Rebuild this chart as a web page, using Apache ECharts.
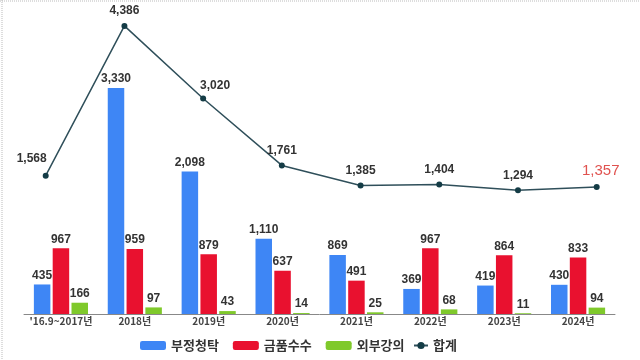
<!DOCTYPE html>
<html><head><meta charset="utf-8">
<script src="https://cdn.jsdelivr.net/npm/echarts@6/dist/echarts.min.js"></script>
<style>html,body{margin:0;padding:0;background:#fff}#c{width:640px;height:360px}</style>
</head><body><div id="c"></div>
<script>
const categories = ["'16.9~2017년", "2018년", "2019년", "2020년", "2021년", "2022년", "2023년", "2024년"];
const solicitation = [435, 3330, 2098, 1110, 869, 369, 419, 430];
const bribery = [967, 959, 879, 637, 491, 967, 864, 833];
const lectures = [166, 97, 43, 14, 25, 68, 11, 94];
const totals = [1568, 4386, 3020, 1761, 1385, 1404, 1294, 1357];
const seriesNames = ['부정청탁', '금품수수', '외부강의', '합계'];

const numFont = "'Liberation Sans', 'Noto Sans CJK KR', sans-serif";
const krFont = "'Noto Sans CJK KR', 'Liberation Sans', sans-serif";
const fmt = v => v.toLocaleString('en-US');

const chart = echarts.init(document.getElementById('c'), null, {renderer: 'canvas'});
const barLabel = {show: true, position: 'top', distance: 3, color: '#333', fontWeight: 'bold', fontSize: 12, fontFamily: numFont, formatter: p => fmt(p.value)};

const lineData = totals.map((v, i) => {
  const d = {value: v};
  if (i === 0) d.label = {offset: [-14, -2]};
  if (i === 2) d.label = {offset: [12, 2]};
  if (i === totals.length - 1) d.label = {color: '#E0524F', fontWeight: 'normal', fontSize: 15, offset: [4, 0]};
  return d;
});

chart.setOption({
  animation: false,
  backgroundColor: '#fff',
  graphic: [
    {type: 'line', shape: {x1: 2, y1: 0, x2: 2, y2: 360}, style: {stroke: '#bbb', lineWidth: 1, lineDash: [1, 1]}},
    {type: 'line', shape: {x1: 0, y1: 1, x2: 640, y2: 1}, style: {stroke: '#bbb', lineWidth: 1, lineDash: [1, 1]}}
  ],
  legend: [
    {data: seriesNames.slice(0, 3), left: 135, bottom: 3, itemWidth: 26, itemHeight: 9, itemGap: 14,
     textStyle: {fontFamily: krFont, fontWeight: 'bold', fontSize: 13, color: '#333'}},
    {data: [seriesNames[3]], left: 408, bottom: 3, itemWidth: 14, itemHeight: 9,
     textStyle: {fontFamily: krFont, fontWeight: 'bold', fontSize: 13, color: '#333'}}
  ],
  grid: [
    {left: 24, right: 25, top: 20, bottom: 46},
    {left: 45.7, right: 43.3, top: 20, bottom: 46}
  ],
  xAxis: [
    {type: 'category', gridIndex: 0, data: categories,
     axisLine: {lineStyle: {color: '#888'}},
     axisTick: {length: 9, interval: 0, lineStyle: {color: '#888'}},
     axisLabel: {interval: 0, hideOverlap: false, margin: 2, fontSize: 10, fontWeight: 'bold', color: '#444', fontFamily: krFont}},
    {type: 'category', gridIndex: 1, data: categories, boundaryGap: false, show: false}
  ],
  yAxis: [
    {type: 'value', gridIndex: 0, min: 0, max: 4330, show: false, splitLine: {show: false}},
    {type: 'value', gridIndex: 1, min: -1034, max: 4497, show: false, splitLine: {show: false}}
  ],
  series: [
    {name: seriesNames[0], type: 'bar', xAxisIndex: 0, yAxisIndex: 0, data: solicitation, barWidth: 16.5, barGap: '14%', itemStyle: {color: '#3E86F5'}, label: barLabel},
    {name: seriesNames[1], type: 'bar', xAxisIndex: 0, yAxisIndex: 0, data: bribery, barWidth: 16.5, barGap: '14%', itemStyle: {color: '#E9112F'}, label: barLabel},
    {name: seriesNames[2], type: 'bar', xAxisIndex: 0, yAxisIndex: 0, data: lectures, barWidth: 16.5, barGap: '14%', itemStyle: {color: '#7FC92B'}, label: barLabel},
    {name: seriesNames[3], type: 'line', xAxisIndex: 1, yAxisIndex: 1, data: lineData,
     symbol: 'circle', symbolSize: 6, lineStyle: {color: '#2F4F5A', width: 1.5},
     itemStyle: {color: '#143C46'},
     label: {show: true, position: 'top', distance: 6, color: '#333', fontWeight: 'bold', fontSize: 12, fontFamily: numFont, formatter: p => fmt(p.value)}}
  ]
});
</script>
</body></html>
